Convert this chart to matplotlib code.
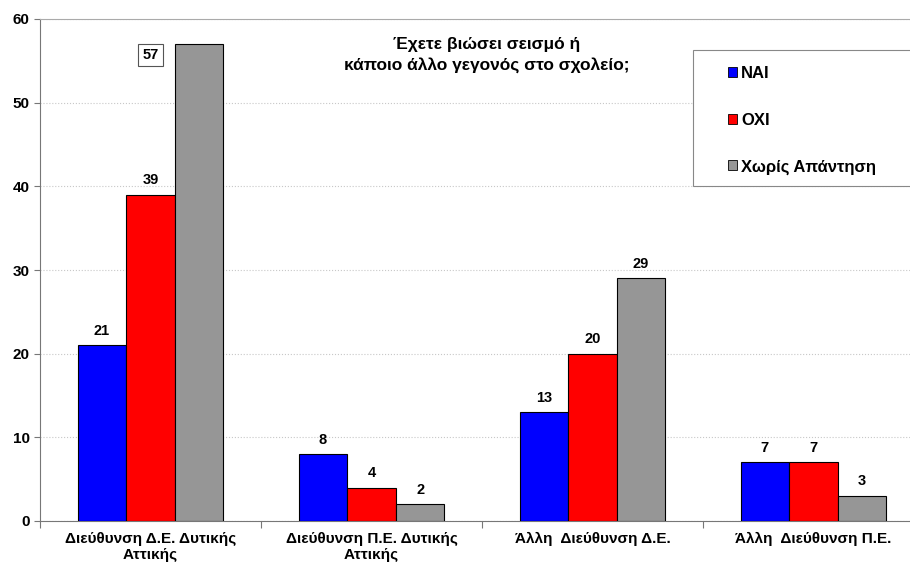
import numpy as np
import matplotlib.pyplot as plt
from matplotlib.patches import Rectangle

# Ερωτηματολόγιο: εμπειρία σεισμού ή άλλου γεγονότος στο σχολείο
categories = ['Διεύθυνση Δ.Ε. Δυτικής\nΑττικής', 'Διεύθυνση Π.Ε. Δυτικής\nΑττικής',
              'Άλλη  Διεύθυνση Δ.Ε.', 'Άλλη  Διεύθυνση Π.Ε.']
nai = [21, 8, 13, 7]
oxi = [39, 4, 20, 7]
xoris = [57, 2, 29, 3]
series_names = ['ΝΑΙ', 'ΟΧΙ', 'Χωρίς Απάντηση']
colors = ['#0000ff', '#ff0000', '#969696']

plt.rcParams['font.family'] = ['Liberation Sans', 'DejaVu Sans']
plt.rcParams['font.weight'] = 'bold'

fig = plt.figure(figsize=(9.1, 5.68), dpi=100)
ax = fig.add_axes([40/910, 1 - 521/568, 884/910, 502/568])

x = np.arange(len(categories))
w = 0.22
for i, (vals, name, c) in enumerate(zip([nai, oxi, xoris], series_names, colors)):
    ax.bar(x + (i - 1) * w, vals, w, color=c, edgecolor='black', linewidth=0.8,
           label=name, zorder=3)
    for xi, v in zip(x + (i - 1) * w, vals):
        if v == max(xoris):
            # η ετικέτα της μεγαλύτερης τιμής σε πλαίσιο, αριστερά της μπάρας
            ax.text(xi - w, v - 1.3, str(v), ha='center', va='center', fontsize=10.5,
                    fontweight='bold',
                    bbox=dict(boxstyle='square,pad=0.3', fc='white', ec='#555555', lw=0.8))
        else:
            ax.text(xi, v + 0.9, str(v), ha='center', va='bottom', fontsize=10.5,
                    fontweight='bold')

ax.set_xlim(-0.5, 3.5)
ax.set_ylim(0, 60)
ax.set_yticks(range(0, 61, 10))
ax.set_xticks(np.arange(-0.5, 3.6, 1))
ax.set_xticklabels([])
ax.set_xticks(x, minor=True)
ax.set_xticklabels(categories, minor=True, fontsize=11, fontweight='bold')
ax.tick_params(axis='x', which='minor', length=0, pad=8)
ax.tick_params(axis='x', which='major', length=5, color='#777777')
ax.tick_params(axis='y', length=4, color='#777777', labelsize=11)
for lab in ax.get_yticklabels():
    lab.set_fontweight('bold')

ax.grid(axis='y', color='#c8c8c8', linestyle=':', linewidth=0.8, zorder=0)
ax.spines['right'].set_visible(False)
ax.spines['top'].set_color('#aaaaaa')
ax.spines['left'].set_color('#777777')
ax.spines['bottom'].set_color('#777777')

fig.text(487/910, 1 - 55/568, 'Έχετε βιώσει σεισμό ή\nκάποιο άλλο γεγονός στο σχολείο;',
         ha='center', va='center', fontsize=12.5, fontweight='bold', linespacing=1.45)

# πλαίσιο υπομνήματος
ax.add_patch(Rectangle((693/910, 1 - 186/568), 220/910, 136/568,
                       transform=fig.transFigure, fc='white', ec='#888888',
                       lw=0.8, zorder=4, clip_on=False))
leg = ax.legend(loc='upper left', bbox_to_anchor=(728/910, 1 - 66/568),
                bbox_transform=fig.transFigure, frameon=False,
                prop={'weight': 'bold', 'size': 12},
                handlelength=0.55, handleheight=0.55, handletextpad=0.25,
                labelspacing=1.9, borderpad=0, borderaxespad=0)
leg.set_zorder(5)
for h in leg.legend_handles:
    h.set_linewidth(0.6)

fig.savefig('out.png', dpi=100)
